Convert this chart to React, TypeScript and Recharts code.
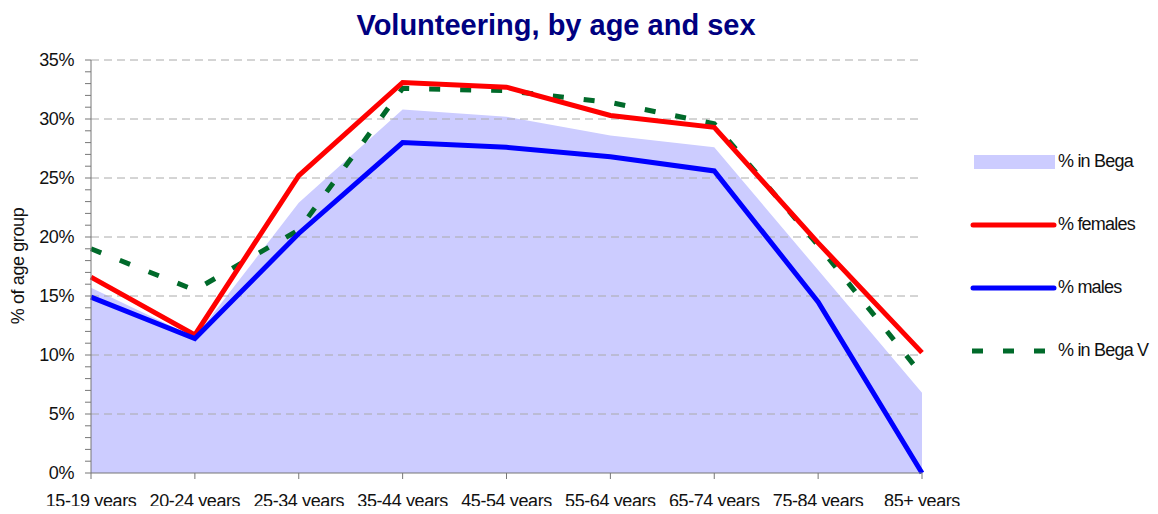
import React from 'react';
import {
  ComposedChart,
  Area,
  Line,
  XAxis,
  YAxis,
  ReferenceLine,
} from 'recharts';

// age groups
const ageGroups = [
  '15-19 years',
  '20-24 years',
  '25-34 years',
  '35-44 years',
  '45-54 years',
  '55-64 years',
  '65-74 years',
  '75-84 years',
  '85+ years',
];

// % volunteering
const inBega = [15.7, 11.5, 22.9, 30.8, 30.2, 28.6, 27.6, 17.2, 6.8];
const females = [16.6, 11.7, 25.2, 33.1, 32.7, 30.3, 29.3, 19.5, 10.2];
const males = [14.9, 11.4, 20.3, 28.0, 27.6, 26.8, 25.6, 14.5, 0];
const inBegaV = [19.0, 15.5, 20.6, 32.6, 32.4, 31.4, 29.6, 19.3, 8.3];

const yTicks = Array.from({ length: 36 }, (_, i) => i);
const gridValues = [5, 10, 15, 20, 25, 30, 35];

const FONT = '"Liberation Sans", Arial, sans-serif';

const legendItems = [
  { name: '% in Bega', kind: 'area', color: '#ccccff' },
  { name: '% females', kind: 'line', color: '#ff0000' },
  { name: '% males', kind: 'line', color: '#0000ff' },
  { name: '% in Bega V', kind: 'dash', color: '#006a2a' },
];

function LegendBox() {
  return (
    <div
      style={{
        position: 'absolute',
        left: 969,
        top: 130,
        width: 189,
        fontFamily: FONT,
        fontSize: 18,
        letterSpacing: -0.8,
        color: '#111',
        whiteSpace: 'nowrap',
      }}
    >
      {legendItems.map((it) => (
        <div key={it.name} style={{ display: 'flex', alignItems: 'center', height: 63 }}>
          <svg width={89} height={16} style={{ flex: 'none' }}>
            {it.kind === 'area' && <rect x={5} y={1} width={81} height={14} fill={it.color} />}
            {it.kind === 'line' && (
              <line x1={4} y1={8} x2={85} y2={8} stroke={it.color} strokeWidth={5} strokeLinecap="round" />
            )}
            {it.kind === 'dash' && (
              <line x1={3} y1={8} x2={85} y2={8} stroke={it.color} strokeWidth={5} strokeDasharray="11 20" />
            )}
          </svg>
          <span>{it.name}</span>
        </div>
      ))}
    </div>
  );
}

export default function App() {
  const chartData = ageGroups.map((g, i) => ({
    age: g,
    bega: inBega[i],
    females: females[i],
    males: males[i],
    begaV: inBegaV[i],
  }));

  return (
    <div style={{ position: 'relative', margin: -8, width: 1158, height: 514, background: '#fff', overflow: 'hidden' }}>
      <div
        style={{
          position: 'absolute',
          top: 9,
          left: 0,
          width: 1112,
          textAlign: 'center',
          fontFamily: FONT,
          fontWeight: 'bold',
          fontSize: 29,
          color: '#000080',
        }}
      >
        Volunteering, by age and sex
      </div>
      <div
        style={{
          position: 'absolute',
          left: 18,
          top: 266,
          transform: 'translate(-50%, -50%) rotate(-90deg)',
          fontFamily: FONT,
          fontSize: 18,
          letterSpacing: -0.4,
          whiteSpace: 'nowrap',
          color: '#111',
        }}
      >
        % of age group
      </div>
      <div
        style={{
          position: 'absolute',
          left: 499,
          top: 297,
          transform: 'translate(-50%, -50%)',
          fontFamily: FONT,
          fontSize: 18,
          letterSpacing: -0.4,
          color: '#111',
        }}
      >
        % in Bega
      </div>
      <LegendBox />
      <ComposedChart
        width={1158}
        height={514}
        data={chartData}
        margin={{ top: 60, right: 236, left: 11, bottom: 11 }}
        style={{ fontFamily: FONT }}
      >
        <XAxis
          dataKey="age"
          scale="point"
          padding={{ left: 0, right: 0 }}
          interval={0}
          height={30}
          stroke="#777"
          tickSize={6}
          tickMargin={15}
          tick={{ fill: '#111', fontSize: 18, letterSpacing: -0.4 }}
        />
        <YAxis
          domain={[0, 35]}
          ticks={yTicks}
          interval={0}
          width={80}
          stroke="#777"
          tickSize={6}
          tickMargin={11}
          tick={{ fill: '#111', fontSize: 18, letterSpacing: -0.4 }}
          tickFormatter={(v: number) => (v % 5 === 0 ? `${v}%` : '')}
        />
        <Area
          type="linear"
          dataKey="bega"
          name="% in Bega"
          fill="#ccccff"
          fillOpacity={1}
          stroke="none"
          isAnimationActive={false}
        />
        {gridValues.map((v) => (
          <ReferenceLine key={v} y={v} stroke="#aaa" strokeDasharray="8 5" />
        ))}
        <Line
          type="linear"
          dataKey="begaV"
          name="% in Bega V"
          stroke="#006a2a"
          strokeWidth={5}
          strokeDasharray="11 20"
          dot={false}
          isAnimationActive={false}
        />
        <Line
          type="linear"
          dataKey="females"
          name="% females"
          stroke="#ff0000"
          strokeWidth={5}
          dot={false}
          isAnimationActive={false}
        />
        <Line
          type="linear"
          dataKey="males"
          name="% males"
          stroke="#0000ff"
          strokeWidth={5}
          dot={false}
          isAnimationActive={false}
        />
      </ComposedChart>
    </div>
  );
}
